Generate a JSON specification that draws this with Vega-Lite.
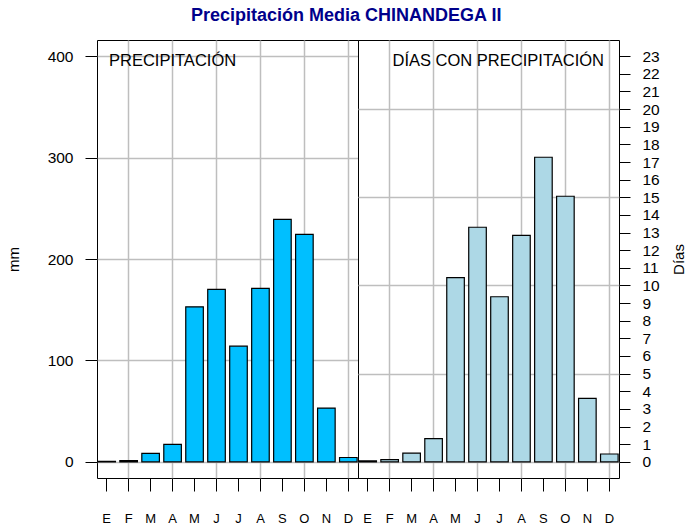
{
  "$schema": "https://vega.github.io/schema/vega-lite/v6.json",
  "padding": {"left": 5, "right": 0, "top": 6, "bottom": 0},
  "background": "white",
  "bounds": "flush",
  "title": {
    "text": "Precipitación Media CHINANDEGA II",
    "font": "Liberation Sans",
    "fontSize": 18,
    "fontWeight": "bold",
    "color": "#00008B",
    "anchor": "middle",
    "frame": "bounds",
    "offset": 15
  },
  "datasets": {
    "precipitacion": [
      {"mes": 1, "mm": 0.3},
      {"mes": 2, "mm": 1.2},
      {"mes": 3, "mm": 8.2},
      {"mes": 4, "mm": 17.1},
      {"mes": 5, "mm": 152.8},
      {"mes": 6, "mm": 170},
      {"mes": 7, "mm": 114},
      {"mes": 8, "mm": 171},
      {"mes": 9, "mm": 239},
      {"mes": 10, "mm": 224.3},
      {"mes": 11, "mm": 53},
      {"mes": 12, "mm": 4.2}
    ],
    "dias": [
      {"mes": 1, "dias": 0.05},
      {"mes": 2, "dias": 0.12},
      {"mes": 3, "dias": 0.49},
      {"mes": 4, "dias": 1.31},
      {"mes": 5, "dias": 10.44},
      {"mes": 6, "dias": 13.3},
      {"mes": 7, "dias": 9.36},
      {"mes": 8, "dias": 12.84},
      {"mes": 9, "dias": 17.27},
      {"mes": 10, "dias": 15.06},
      {"mes": 11, "dias": 3.6},
      {"mes": 12, "dias": 0.44}
    ]
  },
  "config": {
    "font": "Liberation Sans",
    "view": {"stroke": "black", "strokeWidth": 1},
    "concat": {"spacing": 0},
    "axis": {
      "labelFont": "Liberation Sans",
      "labelColor": "black",
      "tickColor": "black",
      "tickWidth": 1,
      "domain": false,
      "gridColor": "#bebebe",
      "gridWidth": 1.5,
      "titleFont": "Liberation Sans",
      "titleFontWeight": "normal",
      "titleColor": "black"
    }
  },
  "hconcat": [
    {
      "width": 261,
      "height": 438,
      "data": {"name": "precipitacion"},
      "title": {
        "text": "PRECIPITACIÓN",
        "anchor": "start",
        "frame": "group",
        "offset": -27,
        "dx": 12,
        "dy": 15,
        "baseline": "alphabetic",
        "fontSize": 16.5,
        "fontWeight": "normal",
        "color": "black"
      },
      "mark": {"type": "bar", "fill": "#00BFFF", "stroke": "black", "strokeWidth": 1.2},
      "encoding": {
        "x": {
          "field": "mes",
          "type": "ordinal",
          "scale": {"paddingInner": 0.2, "paddingOuter": 0.04},
          "axis": {
            "title": null,
            "labelExpr": "['E','F','M','A','M','J','J','A','S','O','N','D'][datum.value - 1]",
            "labelAngle": 0,
            "labelFontSize": 13,
            "tickSize": 13,
            "labelPadding": 21,
            "grid": true,
            "gridOpacity": {"condition": {"test": "datum.value % 2 === 0", "value": 1}, "value": 0}
          }
        },
        "y": {
          "field": "mm",
          "type": "quantitative",
          "scale": {"domain": [-16, 416], "nice": false, "zero": false},
          "axis": {
            "title": "mm",
            "values": [0, 100, 200, 300, 400],
            "tickSize": 12,
            "labelPadding": 12,
            "labelFontSize": 15.5,
            "titleFontSize": 15,
            "titlePadding": 26,
            "grid": true
          }
        },
        "y2": {"datum": 0}
      }
    },
    {
      "width": 261,
      "height": 438,
      "data": {"name": "dias"},
      "title": {
        "text": "DÍAS CON PRECIPITACIÓN",
        "anchor": "end",
        "frame": "group",
        "offset": -27,
        "dx": -15,
        "dy": 15,
        "baseline": "alphabetic",
        "fontSize": 16.5,
        "fontWeight": "normal",
        "color": "black"
      },
      "mark": {"type": "bar", "fill": "#ADD8E6", "stroke": "black", "strokeWidth": 1.2},
      "encoding": {
        "x": {
          "field": "mes",
          "type": "ordinal",
          "scale": {"paddingInner": 0.2, "paddingOuter": 0.04},
          "axis": {
            "title": null,
            "labelExpr": "['E','F','M','A','M','J','J','A','S','O','N','D'][datum.value - 1]",
            "labelAngle": 0,
            "labelFontSize": 13,
            "tickSize": 13,
            "labelPadding": 21,
            "grid": true,
            "gridOpacity": {"condition": {"test": "datum.value % 2 === 0", "value": 1}, "value": 0}
          }
        },
        "y": {
          "field": "dias",
          "type": "quantitative",
          "scale": {"domain": [-0.92, 23.92], "nice": false, "zero": false},
          "axis": {
            "orient": "right",
            "title": "Días",
            "titleAngle": 270,
            "titleBaseline": "top",
            "values": [0, 1, 2, 3, 4, 5, 6, 7, 8, 9, 10, 11, 12, 13, 14, 15, 16, 17, 18, 19, 20, 21, 22, 23],
            "tickSize": 11,
            "labelPadding": 12,
            "labelFontSize": 15.5,
            "titleFontSize": 15,
            "titlePadding": 12,
            "grid": true,
            "gridOpacity": {"condition": {"test": "datum.value % 5 === 0", "value": 1}, "value": 0}
          }
        },
        "y2": {"datum": 0}
      }
    }
  ]
}
